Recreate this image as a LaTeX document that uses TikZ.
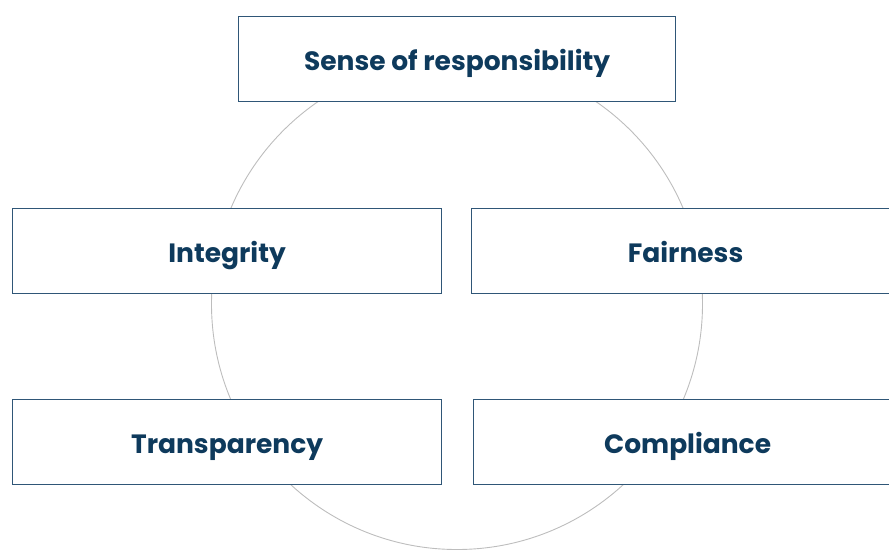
\documentclass[tikz,border=0pt]{standalone}
\usepackage{fontspec}
\setmainfont{Poppins}
\begin{document}
\begin{tikzpicture}[x=1pt,y=-1pt,
  box/.style={draw=boxline, line width=1.2pt, fill=white, anchor=north west, inner sep=0pt},
  lbl/.style={text=txtcol, anchor=base, inner sep=0pt, font=\fontsize{26.5}{30}\selectfont\bfseries}]
\definecolor{boxline}{HTML}{2F5677}
\definecolor{txtcol}{HTML}{0E3A5C}
\definecolor{ringcol}{HTML}{BDBDBD}
\useasboundingbox (0,0) rectangle (889,550);
\node[draw=ringcol, line width=0.9pt, circle, minimum size=491pt, inner sep=0pt] (ring) at (457,304) {};
\node[box, minimum width=437pt, minimum height=85pt] (top) at (238,16) {};
\node[box, minimum width=429pt, minimum height=85pt] (integ) at (12,208) {};
\node[box, minimum width=430pt, minimum height=85pt] (fair) at (471,208) {};
\node[box, minimum width=429pt, minimum height=85pt] (trans) at (12,399) {};
\node[box, minimum width=430pt, minimum height=85pt] (comp) at (473,399) {};
\node[lbl] (ttop) at ([yshift=-11pt]top.center) {Sense of responsibility};
\node[lbl] (tinteg) at ([yshift=-11pt]integ.center) {Integrity};
\node[lbl] (tfair) at ([xshift=-1pt,yshift=-11pt]fair.center) {Fairness};
\node[lbl] (ttrans) at ([yshift=-11pt]trans.center) {Transparency};
\node[lbl] (tcomp) at ([xshift=-1pt,yshift=-11pt]comp.center) {Compliance};
\end{tikzpicture}
\end{document}
